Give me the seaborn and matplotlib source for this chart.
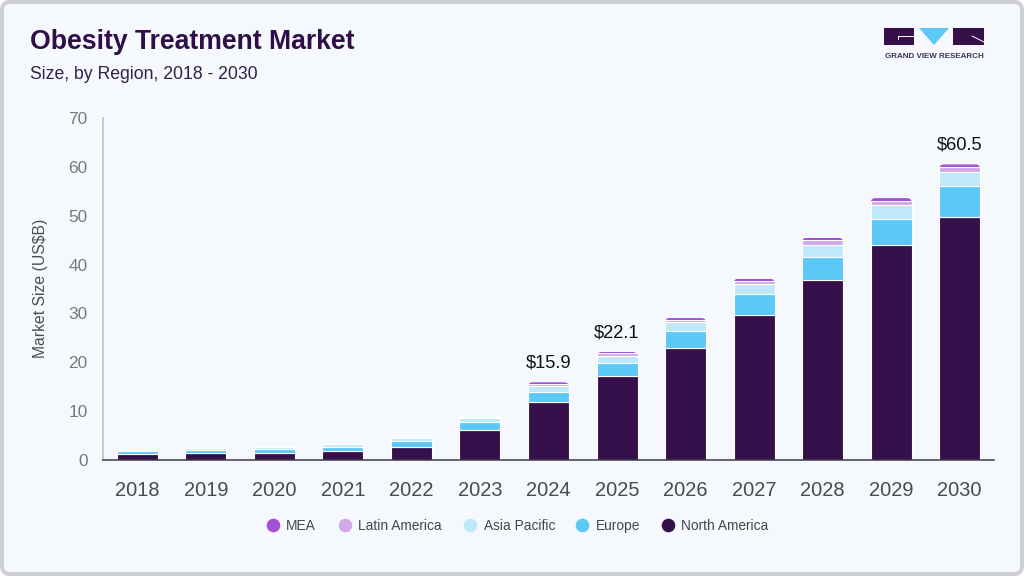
import matplotlib
matplotlib.use("Agg")
import matplotlib.pyplot as plt
from matplotlib.patches import FancyBboxPatch, Polygon, Rectangle
from matplotlib.transforms import IdentityTransform
import numpy as np
import pandas as pd
import seaborn as sns

years = [2018, 2019, 2020, 2021, 2022, 2023, 2024, 2025, 2026, 2027, 2028, 2029, 2030]
north_america = [1.2, 1.45, 1.45, 1.85, 2.65, 6.1, 11.8, 17.15, 22.9, 29.6, 36.9, 44.1, 49.8]
europe = [0.65, 0.6, 0.7, 0.8, 1.25, 1.6, 2.2, 2.8, 3.5, 4.3, 4.7, 5.3, 6.2]
asia_pacific = [0.15, 0.35, 0.45, 0.6, 0.55, 0.8, 1.2, 1.4, 1.8, 2.2, 2.5, 2.7, 3.0]
latin_america = [0.05, 0.05, 0.05, 0.05, 0.1, 0.25, 0.45, 0.45, 0.5, 0.6, 0.9, 1.0, 1.0]
mea = [0.02, 0.02, 0.02, 0.02, 0.05, 0.15, 0.25, 0.3, 0.35, 0.4, 0.5, 0.5, 0.5]
total_labels = {2024: "$15.9", 2025: "$22.1", 2030: "$60.5"}
series = ["North America", "Europe", "Asia Pacific", "Latin America", "MEA"]
values = [north_america, europe, asia_pacific, latin_america, mea]
colors = ["#35104b", "#5bc8f5", "#bfe9fb", "#d2a9e6", "#a551d6"]

BG = "#f5f9fd"
sns.set_theme(style="white", rc={"font.family": ["Liberation Sans", "DejaVu Sans"]})
fig = plt.figure(figsize=(10.24, 5.76), dpi=100, facecolor="white")
frame = FancyBboxPatch((2, 2), 1020, 572, boxstyle="round,pad=0,rounding_size=8", transform=IdentityTransform(),
                       fc=BG, ec="#cfd0d2", lw=2.9, zorder=-5)
fig.add_artist(frame)
ax = fig.add_axes([103/1024, 1-460/576, 891/1024, 342/576], zorder=2)
ax.set_facecolor("none")

df = pd.DataFrame(dict(zip(series, values)), index=years)
bottom = np.zeros(len(years))
W = 41/68.54
for name, col in zip(series, colors):
    sns.barplot(x=[str(y) for y in years], y=df[name].values, bottom=bottom, color=col, width=W,
                saturation=1, edgecolor="white", linewidth=0.8, ax=ax, zorder=2)
    bottom = bottom + df[name].values

ax.set_xlim(-0.5, 12.5)
ax.set_ylim(0, 70)
ax.set_yticks(range(0, 71, 10))
sns.despine(ax=ax)
ax.spines["left"].set_color("#c9cccf")
ax.spines["left"].set_linewidth(1.5)
ax.spines["bottom"].set_color("#3a3a44")
ax.spines["bottom"].set_linewidth(1.1)
ax.tick_params(axis="x", length=0, pad=15, labelsize=14.4, labelcolor="#4a4a52")
ax.tick_params(axis="y", length=0, pad=11, labelsize=12.4, labelcolor="#77777d")
ax.set_ylabel("Market Size (US$B)", fontsize=11.3, color="#4d4d55")
ax.yaxis.set_label_coords((48-103)/891, (460-288.5)/342)
ax.set_xlabel("")

for i, y in enumerate(years):
    if y in total_labels:
        ax.text(i, bottom[i] + 2.15, total_labels[y], ha="center", va="bottom", fontsize=13.2, color="#111111")

# Rounded tops on the top-most segment
for patch in ax.patches[-len(years):]:
    x0, w = patch.get_x(), patch.get_width()
    y1 = patch.get_y() + patch.get_height()
    patch.set_linewidth(0)
    clip = FancyBboxPatch((x0, y1 - 10), w, 10, boxstyle="round,pad=0,rounding_size=0.07",
                          mutation_aspect=(1/4.886)/(1/68.54), transform=ax.transData, fc="none", ec="none")
    ax.add_patch(clip)
    patch.set_clip_path(clip)

# Legend
names = ["MEA", "Latin America", "Asia Pacific", "Europe", "North America"]
cx = [273, 344.7, 470.4, 582.3, 667.5]
lcol = colors[::-1]
for n, x, c in zip(names, cx, lcol):
    fig.add_artist(plt.Line2D([x/1024], [1-525/576], marker="o", ms=9.8, color=c, mew=0, transform=fig.transFigure))
    fig.text((x+13.3)/1024, 1-530/576, n, fontsize=9.9, color="#45454f", va="baseline", family="Liberation Sans")

# Titles
fig.text(30/1024, 1-49/576, "Obesity Treatment Market", fontsize=19.15, fontweight="bold", color="#2f0f47",
         va="baseline", family="Liberation Sans")
fig.text(30/1024, 1-79/576, "Size, by Region, 2018 - 2030", fontsize=12.67, color="#35204a", va="baseline",
         family="Liberation Sans")

# Logo
def px_rect(x0, y0, x1, y1, c):
    fig.add_artist(Rectangle((x0/1024, 1-y1/576), (x1-x0)/1024, (y1-y0)/576, transform=fig.transFigure, fc=c, ec="none"))
px_rect(884, 28, 914, 45, "#35104b")
px_rect(953, 28, 984, 45, "#35104b")
fig.add_artist(Polygon([(919/1024, 1-28/576), (949/1024, 1-28/576), (934/1024, 1-45/576)], closed=True,
                       transform=fig.transFigure, fc="#5bc8f5", ec="none"))
fig.add_artist(plt.Line2D([898/1024, 914/1024], [1-36/576, 1-36/576], color="white", lw=0.7, transform=fig.transFigure))
fig.add_artist(plt.Line2D([898/1024, 898/1024], [1-36/576, 1-39/576], color="white", lw=0.7, transform=fig.transFigure))
fig.add_artist(plt.Line2D([972/1024, 984/1024], [1-36/576, 1-42/576], color="white", lw=0.7, transform=fig.transFigure))
fig.text(934/1024, 1-57.5/576, "GRAND VIEW RESEARCH", fontsize=5.75, fontweight="bold", color="#3f3256",
         ha="center", va="baseline", family="Liberation Sans")

fig.savefig("out.png", dpi=100, facecolor=fig.get_facecolor())
